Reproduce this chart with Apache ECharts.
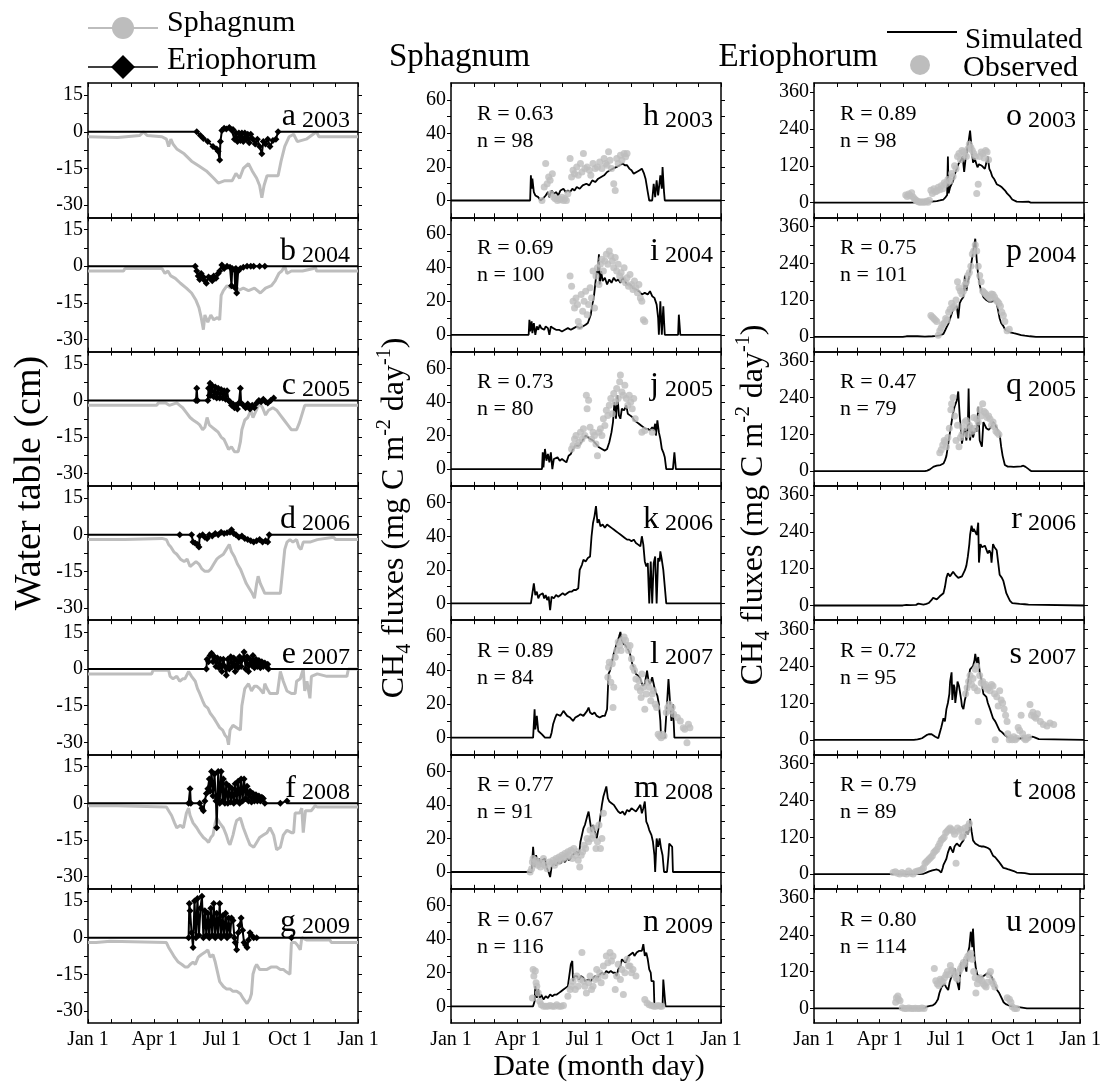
<!DOCTYPE html>
<html>
<head>
<meta charset="utf-8">
<script src="https://cdn.jsdelivr.net/npm/echarts@6/dist/echarts.min.js"></script>
<style>
  html, body { margin: 0; padding: 0; background: #fff; }
  #main { width: 1104px; height: 1083px; }
</style>
</head>
<body>
<div id="main"></div>
<script>
// ---- labels / ticks ----
const years = [2003, 2004, 2005, 2006, 2007, 2008, 2009];
const lettersWT = ['a', 'b', 'c', 'd', 'e', 'f', 'g'];
const lettersSph = ['h', 'i', 'j', 'k', 'l', 'm', 'n'];
const lettersEri = ['o', 'p', 'q', 'r', 's', 't', 'u'];
const rSph = ['0.63', '0.69', '0.73', null, '0.89', '0.77', '0.67'];
const nSph = ['98', '100', '80', null, '84', '91', '116'];
const rEri = ['0.89', '0.75', '0.47', null, '0.72', '0.79', '0.80'];
const nEri = ['98', '101', '79', null, '95', '89', '114'];
const monthStarts = [0, 31, 59, 90, 120, 151, 181, 212, 243, 273, 304, 334, 365];
const dateTicks = [0, 90, 181, 273, 365];
const dateLabels = ['Jan 1', 'Apr 1', 'Jul 1', 'Oct 1', 'Jan 1'];
const wtTicks = [-30, -22.5, -15, -7.5, 0, 7.5, 15];
const wtLabels = [-30, -15, 0, 15];
const sphTicks = [0, 10, 20, 30, 40, 50, 60];
const sphLabels = [0, 20, 40, 60];
const eriTicks = [0, 60, 120, 180, 240, 300, 360];
const eriLabels = [0, 120, 240, 360];

// ---- water table (cm), [day of year, value] ----
const wtSph2003 = [[0,-2],[40,-2.3],[70,-1.5],[75,0],[80,-1.5],[100,-2],[106,-3],[109,-6],[112,-3],[115,-5],[120,-7],[130,-9],[140,-12],[150,-14],[160,-16],[170,-19],[176,-21],[185,-20],[195,-20],[200,-17],[205,-19],[210,-15],[217,-13],[222,-16],[228,-19],[232,-22],[235,-27],[238,-22],[242,-18],[250,-18],[257,-18],[261,-12],[266,-6],[272,-2],[278,-1],[283,-4],[295,-3],[309,0],[312,-2],[365,-2]];
const wtEri2003 = [[147,0],[152,-1.5],[156,-2.7],[162,-4],[169,-6],[174,-7],[176,-8],[178,-11.5],[179,-4],[181,0.5],[184,1.5],[187,1.2],[191,1.8],[194,0.8],[196,1],[198,-3],[200,-0.5],[202,-4],[204,-0.5],[206,-3.5],[208,-0.5],[210,-4],[212,-0.5],[214,-3],[216,-1],[218,-4.5],[220,-1],[223,-3],[226,-5],[229,-3],[232,-6],[235,-9],[237,-4],[240,-5],[243,-3],[246,-6],[250,-3.5],[254,-3],[257,0]];
const wtSph2004 = [[0,-2],[48,-2],[50,-1],[100,-1],[104,-3],[108,-2],[112,-4],[118,-5],[125,-7],[133,-9],[140,-11],[146,-14],[150,-17],[153,-21],[156,-26],[158,-20],[162,-23],[166,-20],[170,-22],[175,-21],[178,-22],[180,-12],[183,-10],[188,-8],[193,-9],[198,-8],[203,-10],[210,-9],[217,-10],[225,-9],[233,-11],[240,-9],[248,-8],[253,-6],[258,-3],[262,-2],[266,0],[269,-3],[275,-2],[290,-2],[305,-1],[307,0],[309,-2],[365,-2]];
const wtEri2004 = [[145,0],[147,-2],[149,-4],[151,-5.5],[153,-3],[156,-4.5],[158,-6],[160,-7],[163,-4.5],[165,-5],[168,-6],[170,-4],[173,-5],[176,-3],[178,-2],[181,0.5],[184,-1],[188,0],[192,-0.5],[194,-8],[195,-1],[198,-1.5],[199,-9],[200,-1],[201,-11],[203,-2],[206,-1],[210,-0.5],[215,0],[220,0],[224,0],[232,0],[239,0]];
const wtSph2005 = [[0,-2],[60,-2],[93,-2],[95,-1],[105,-1],[110,-2],[120,-1],[124,-2],[128,-3],[133,-5],[138,-7],[142,-8],[147,-9],[151,-10],[155,-12],[158,-11],[161,-7],[164,-10],[168,-11],[172,-12],[176,-13],[180,-15],[184,-16],[187,-18],[190,-20],[194,-19],[198,-21],[203,-21],[206,-17],[208,-12],[212,-8],[216,-7],[220,-4],[223,-7],[226,-5],[229,-3],[232,-1],[236,-3],[240,-6],[244,-4],[250,-3],[255,-4],[260,-6],[265,-8],[270,-10],[275,-12],[282,-12],[286,-9],[290,-5],[293,-2],[300,-2],[365,-2]];
const wtEri2005 = [[146,0],[147,5],[148,0],[162,0],[163,5],[164,2],[165,7],[166,2],[168,6],[170,1.5],[172,5.5],[174,1],[176,5],[178,1],[180,4.5],[182,1],[184,4],[186,0.5],[188,4],[190,0],[192,-0.5],[194,-2],[196,-1.5],[198,-3],[200,-2],[202,-3.5],[204,-1],[206,5],[207,-1],[210,-2],[213,-3],[216,-1.5],[219,-3.5],[222,-2],[225,-3],[228,-1],[231,0],[234,-0.5],[237,0.5],[240,-0.5],[243,-1],[247,0],[251,1]];
const wtSph2006 = [[0,-2],[50,-2],[52,-1.5],[100,-1.5],[106,-2],[109,-4],[112,-5],[116,-7],[120,-8],[125,-10],[130,-11],[134,-10],[138,-13],[142,-12],[146,-11],[150,-12],[154,-14],[158,-15],[163,-15],[166,-14],[170,-12],[174,-10],[178,-9],[183,-8],[187,-6],[191,-4],[194,-7],[198,-9],[202,-12],[206,-14],[210,-17],[214,-20],[218,-22],[222,-24],[225,-26],[228,-20],[230,-17],[233,-20],[236,-22],[239,-24],[245,-24],[252,-24],[260,-24],[263,-15],[266,-6],[269,-3],[273,-2],[277,-3],[282,-2],[285,-5],[288,-6],[291,-3],[300,-3],[310,-2],[332,-1],[335,-2],[365,-2]];
const wtEri2006 = [[124,0],[140,0],[142,-3],[145,-3.5],[148,-4],[150,-5],[151,-0.5],[155,0],[158,-1],[161,-1.5],[164,0],[168,-0.5],[172,0.5],[176,0],[180,1],[184,0.5],[188,0.8],[192,1],[194,2],[197,0.5],[200,0],[204,-1],[208,-0.5],[212,-1.5],[216,-2],[220,-2.5],[224,-3],[228,-2.5],[232,-2],[236,-3],[240,-2.5],[243,-3],[245,0]];
const wtSph2007 = [[0,-2],[86,-2],[88,-0.5],[109,-0.5],[111,-3],[115,-4],[120,-3],[124,-5],[128,-4],[131,-4],[136,-1],[140,-3],[145,-5],[148,-8],[151,-10],[155,-13],[158,-15],[162,-16],[165,-18],[170,-20],[174,-22],[178,-24],[182,-25],[185,-27],[188,-28],[190,-31],[192,-25],[196,-23],[201,-24],[206,-25],[208,-15],[212,-8],[217,-6],[221,-9],[225,-7],[228,-7],[232,-8],[237,-10],[239,-6],[242,-8],[246,-10],[250,-10],[256,-10],[260,-1],[264,-5],[269,-9],[275,-10],[280,-10],[282,-5],[287,-4],[291,0],[293,-9],[296,-5],[300,-12],[302,-3],[310,-2],[323,-3],[340,-3],[350,-3],[352,0],[365,0]];
const wtEri2007 = [[160,0],[161,4],[163,3],[165,5.5],[167,6.5],[169,3],[171,5],[173,1],[175,4.5],[177,0.5],[179,4],[181,-1],[183,4],[185,1],[187,-2.5],[189,4],[191,0],[193,5],[195,1],[197,4.5],[199,-1],[201,3.5],[203,0.5],[205,5],[207,1],[209,4],[211,7],[213,0],[215,5],[217,-1],[219,4],[221,1.5],[223,5.5],[225,0.5],[227,4],[229,1],[231,3.5],[233,0.5],[235,3],[237,1],[239,2.5],[241,1],[243,2],[244,0]];
const wtSph2008 = [[0,-1],[39,-1],[41,-1.5],[106,-1.5],[109,-3],[113,-5],[117,-8],[120,-10],[125,-9],[129,-10],[133,-4],[136,-2],[138,-5],[142,-8],[147,-10],[151,-12],[156,-14],[160,-15],[163,-16],[166,-14],[169,-13],[172,-8],[174,-6],[178,-8],[183,-10],[187,-13],[190,-16],[192,-17],[196,-13],[199,-9],[201,-7],[206,-6],[210,-10],[215,-14],[219,-17],[224,-18],[228,-16],[232,-14],[237,-13],[242,-12],[246,-10],[251,-13],[255,-19],[260,-18],[264,-13],[269,-11],[275,-12],[278,-12],[280,-4],[286,-4],[289,-2],[291,-12],[294,-3],[302,-3],[307,-1],[310,-1.5],[365,-1.5]];
const wtEri2008 = [[136,0],[138,6],[139,0],[151,0],[154,-2],[156,-3],[158,1],[160,4],[162,6],[164,10],[165,5],[167,13],[169,3],[171,12],[173,1],[174,-10],[175,2],[176,13],[178,0],[180,13],[182,1],[183,10],[185,0],[187,8],[189,0],[191,7],[193,0.5],[195,6],[197,0],[199,8],[201,1],[203,9],[205,0],[207,10],[209,1],[211,10],[213,2],[215,7],[217,1],[219,5],[221,0.5],[223,4],[225,1],[227,3.5],[229,1],[231,3],[233,1],[235,2.5],[237,2],[239,0],[260,0],[269,1]];
const wtSph2009 = [[0,-2],[11,-2],[12,-1.5],[30,-1.5],[32,-2],[106,-2],[109,-4],[113,-6],[117,-8],[122,-10],[127,-11],[131,-12],[135,-12],[138,-11],[142,-10],[145,-11],[149,-8],[153,-7],[158,-6],[162,-5],[165,-8],[169,-7],[172,-10],[175,-14],[178,-18],[183,-20],[187,-21],[192,-21],[196,-22],[201,-22],[206,-23],[210,-25],[215,-27],[219,-25],[221,-23],[223,-15],[226,-12],[228,-11],[232,-13],[237,-13],[242,-13],[248,-12],[255,-12],[260,-13],[264,-13],[268,-14],[273,-15],[275,-2],[280,-2],[283,-3],[287,-5],[289,0],[296,-1],[327,-1],[329,-2],[365,-2]];
const wtEri2009 = [[136,0],[137,14],[138,11],[140,2],[142,-4],[144,15],[146,0],[148,16],[150,1],[152,12],[154,17],[156,0],[158,11],[160,1],[162,10],[164,0],[166,12],[168,1],[170,14],[172,0],[174,10],[176,1],[178,14],[180,0],[182,9],[184,1],[186,10],[188,0],[190,8],[192,1],[194,8],[196,7],[198,0],[199,-2],[201,-5],[203,2],[205,5],[207,8],[209,3],[211,-2],[213,-3],[215,-4],[217,-1],[219,2],[221,1],[224,0],[228,0],[275,0]];

// ---- Sphagnum CH4 flux (mg C m-2 day-1) ----
const sphSim2003 = [[0,0],[107,0],[108,15],[109,7],[110,13],[112,5],[114,3],[118,2],[121,0],[124,1],[128,3],[131,5],[133,2],[136,6],[139,4],[142,5],[145,3],[148,6],[152,7],[155,5],[158,6],[161,5],[164,7],[167,6],[170,8],[174,7],[178,9],[183,10],[187,9],[191,12],[195,11],[199,13],[203,14],[207,15],[211,17],[215,18],[219,19],[224,20],[228,21],[232,22],[235,21],[238,21],[241,19],[244,18],[247,16],[251,17],[255,18],[258,19],[261,16],[263,13],[266,5],[268,0],[272,0],[274,10],[276,2],[278,12],[280,3],[283,15],[285,7],[286,20],[288,5],[289,0],[365,0]];
const sphObs2003 = [[123,0],[126,8],[128,22],[130,10],[132,14],[134,12],[135,4],[137,16],[139,2],[141,1],[144,0],[146,1],[148,0.5],[150,2],[152,0],[154,1],[156,0],[158,4],[161,25],[163,14],[165,18],[167,16],[170,20],[172,15],[175,22],[177,17],[179,28],[181,19],[184,20],[187,18],[189,15],[192,22],[195,19],[198,20],[201,23],[204,19],[207,25],[209,22],[211,21],[213,29],[215,24],[217,19],[220,10],[222,6],[224,25],[226,22],[229,27],[231,24],[234,28],[236,26],[238,28]];
const sphSim2004 = [[0,0],[105,0],[106,9],[107,2],[109,8],[110,1],[112,7],[114,0],[116,5],[118,3],[120,6],[122,4],[124,5],[126,3],[128,5],[131,4],[133,0],[135,5],[138,4],[142,3],[146,3],[150,2],[154,3],[158,4],[162,3],[166,4],[170,5],[174,4],[178,5],[182,6],[185,7],[187,6],[189,12],[191,18],[193,22],[195,30],[197,38],[198,36],[200,48],[201,30],[203,38],[205,32],[208,34],[211,30],[214,33],[217,31],[220,34],[223,32],[226,33],[229,31],[232,34],[235,32],[238,30],[242,30],[246,28],[250,27],[254,26],[258,24],[262,25],[266,24],[269,26],[272,23],[275,22],[278,18],[280,10],[281,0],[283,20],[285,0],[287,17],[289,0],[307,0],[308,12],[310,0],[365,0]];
const sphObs2004 = [[161,35],[163,29],[165,20],[167,16],[169,22],[171,18],[172,8],[174,5],[176,24],[178,14],[180,20],[182,26],[184,12],[186,18],[188,28],[190,22],[192,38],[194,16],[196,35],[198,40],[200,30],[202,42],[204,45],[206,38],[208,44],[210,48],[212,42],[214,50],[216,47],[218,44],[220,40],[222,46],[224,38],[226,42],[228,35],[230,37],[232,33],[234,40],[236,31],[238,34],[240,29],[242,36],[244,30],[246,27],[248,32],[250,28],[252,25],[254,30],[256,22],[258,20],[260,9],[262,8]];
const sphSim2005 = [[0,0],[123,0],[124,10],[125,1],[127,12],[129,5],[131,9],[133,4],[135,10],[137,0],[139,6],[141,5],[144,7],[147,5],[150,6],[153,5],[156,4],[159,8],[162,9],[165,12],[168,14],[170,15],[173,14],[176,16],[179,18],[182,20],[185,19],[188,18],[192,17],[196,15],[200,13],[204,12],[208,11],[211,12],[214,16],[217,22],[219,28],[221,40],[223,30],[225,44],[227,32],[229,30],[231,36],[234,35],[237,38],[239,33],[242,32],[245,31],[248,29],[251,28],[254,27],[257,26],[260,25],[263,24],[266,24],[269,23],[272,25],[274,23],[276,27],[277,20],[279,29],[281,22],[283,18],[285,12],[287,10],[289,7],[291,0],[300,0],[302,10],[304,0],[365,0]];
const sphObs2005 = [[163,12],[165,14],[167,18],[169,20],[171,14],[173,16],[175,22],[177,18],[179,24],[181,20],[183,44],[184,36],[186,41],[188,25],[190,18],[192,22],[194,20],[196,15],[198,8],[200,22],[202,24],[204,20],[206,30],[208,26],[210,35],[212,32],[214,38],[216,42],[218,33],[220,45],[222,40],[224,48],[226,42],[228,52],[229,56],[231,46],[233,44],[235,50],[237,42],[239,38],[241,44],[243,40],[245,36],[247,42],[249,30],[258,22],[262,23],[272,22]];
const sphSim2006 = [[0,0],[104,0],[106,1],[108,0],[112,12],[114,5],[116,7],[118,3],[120,5],[122,4],[124,6],[126,3],[128,5],[130,2],[132,4],[134,-4],[136,4],[139,3],[142,5],[145,4],[148,5],[151,6],[154,5],[157,6],[160,7],[163,7],[166,8],[169,8],[172,9],[174,20],[177,23],[179,26],[182,25],[185,27],[188,28],[190,40],[192,48],[194,52],[196,58],[198,48],[200,50],[202,46],[205,47],[208,45],[211,47],[214,46],[217,45],[220,44],[223,43],[226,42],[229,41],[232,40],[235,39],[238,38],[241,38],[244,37],[247,38],[250,36],[253,35],[256,34],[258,40],[260,35],[262,25],[264,22],[266,24],[268,0],[270,25],[272,0],[274,24],[276,28],[278,0],[280,27],[282,25],[283,31],[285,26],[287,20],[291,0],[365,0]];
const sphSim2007 = [[0,0],[111,0],[113,17],[114,5],[116,13],[118,4],[120,3],[123,2],[127,0],[134,0],[136,3],[138,8],[141,12],[143,14],[145,15],[148,13],[150,14],[152,16],[154,15],[157,13],[161,12],[165,10],[168,12],[172,13],[175,14],[177,15],[179,13],[181,14],[184,16],[186,18],[188,15],[191,14],[194,15],[197,13],[201,12],[205,13],[208,13],[211,17],[213,38],[215,40],[218,46],[220,50],[222,53],[224,56],[227,60],[229,63],[231,58],[233,56],[236,55],[238,55],[240,52],[242,50],[245,44],[247,42],[250,38],[253,37],[256,35],[259,31],[262,32],[265,40],[267,34],[269,32],[272,36],[274,35],[276,28],[279,25],[281,20],[283,10],[284,0],[289,0],[292,20],[294,35],[296,22],[298,10],[300,20],[302,0],[365,0]];
const sphObs2007 = [[212,36],[213,42],[214,45],[216,33],[218,44],[219,18],[220,30],[222,48],[224,52],[226,57],[228,55],[230,52],[232,58],[234,60],[236,58],[238,55],[240,52],[242,55],[244,47],[246,42],[248,40],[250,35],[252,30],[254,34],[256,28],[257,24],[258,38],[260,30],[262,17],[264,26],[266,33],[268,30],[270,22],[272,26],[274,28],[276,20],[278,18],[280,2],[282,1],[284,0],[286,2],[288,1],[291,15],[293,18],[295,20],[297,16],[299,18],[301,14],[306,12],[310,10],[314,6],[316,5],[319,-3],[321,8],[323,6]];
const sphSim2008 = [[0,0],[109,0],[111,15],[113,3],[115,10],[117,6],[119,8],[121,5],[123,7],[125,6],[127,8],[129,3],[132,0],[134,-3],[136,3],[139,5],[142,4],[145,6],[148,5],[151,7],[154,6],[157,8],[160,7],[164,10],[167,11],[170,12],[173,10],[175,18],[177,22],[179,26],[181,28],[184,33],[186,36],[188,30],[190,24],[192,28],[194,25],[197,20],[199,25],[201,30],[204,40],[206,45],[208,48],[210,51],[212,44],[214,42],[217,41],[220,40],[223,38],[226,36],[229,35],[232,36],[235,34],[238,37],[241,36],[244,38],[247,37],[250,36],[253,38],[256,40],[258,35],[260,38],[262,42],[264,30],[266,28],[268,25],[271,22],[273,18],[275,10],[276,0],[278,20],[280,15],[282,20],[284,14],[286,10],[288,0],[292,0],[294,10],[295,17],[297,16],[299,15],[300,0],[365,0]];
const sphObs2008 = [[107,0],[109,2],[110,6],[111,8],[113,5],[115,7],[117,4],[119,6],[121,3],[123,5],[125,8],[127,4],[130,2],[133,6],[136,5],[138,7],[140,4],[142,8],[144,6],[146,9],[148,7],[150,10],[152,8],[154,11],[156,9],[158,12],[160,10],[162,13],[164,8],[166,14],[168,10],[170,12],[172,7],[174,3],[176,10],[178,12],[180,16],[182,14],[184,20],[186,18],[188,25],[190,20],[192,22],[194,26],[196,14],[198,18],[200,28],[202,14],[204,20],[206,35]];
const sphSim2009 = [[0,0],[111,0],[113,3],[114,12],[116,5],[118,10],[120,5],[122,7],[125,4],[128,6],[131,5],[134,7],[137,6],[140,7],[143,7],[146,8],[149,9],[152,10],[155,11],[158,12],[160,13],[162,25],[164,27],[165,15],[167,18],[170,18],[173,16],[176,18],[179,17],[181,15],[183,14],[186,16],[189,15],[192,17],[195,18],[198,17],[201,19],[204,20],[207,19],[210,21],[213,20],[216,21],[219,20],[222,20],[224,18],[226,22],[229,24],[231,28],[233,27],[236,26],[238,28],[240,30],[243,31],[246,32],[248,30],[251,32],[254,33],[256,34],[258,33],[260,37],[262,30],[264,32],[266,28],[268,22],[270,20],[271,15],[274,15],[275,0],[286,0],[287,16],[289,16],[290,0],[365,0]];
const sphObs2009 = [[110,5],[111,22],[112,18],[114,21],[115,14],[116,12],[118,8],[120,3],[122,1],[125,0],[128,0],[131,0],[134,0.5],[137,0],[140,0],[143,1],[146,0],[149,0],[152,0.5],[158,6],[161,10],[163,12],[165,15],[168,10],[170,18],[172,12],[175,16],[177,32],[179,15],[181,12],[183,8],[186,14],[188,18],[190,10],[192,12],[195,16],[197,22],[199,17],[201,20],[203,14],[206,24],[208,18],[210,30],[212,26],[215,32],[217,27],[219,30],[222,10],[224,18],[226,25],[229,16],[231,22],[233,7],[235,20],[238,28],[240,24],[242,24],[244,20],[246,22],[250,18],[262,4],[265,2],[268,1],[271,0.5],[274,0],[277,0],[280,0.5],[283,0],[285,0]];

// ---- Eriophorum CH4 flux (mg C m-2 day-1) ----
const eriSim2003 = [[0,0],[130,0],[140,1],[150,2],[157,2],[162,4],[166,5],[170,7],[175,10],[178,18],[180,25],[181,150],[182,30],[184,50],[186,60],[188,70],[190,90],[193,110],[195,125],[197,130],[199,140],[201,150],[203,100],[205,145],[207,150],[209,200],[211,235],[213,180],[215,130],[217,145],[219,150],[221,115],[223,125],[225,130],[227,120],[229,115],[231,110],[233,130],[235,150],[237,110],[239,100],[241,85],[244,75],[247,60],[249,62],[251,55],[254,50],[256,45],[258,40],[261,30],[263,25],[265,20],[268,10],[270,5],[274,3],[282,2],[290,3],[293,0],[365,0]];
const eriObs2003 = [[124,25],[126,20],[128,28],[130,22],[132,32],[134,18],[136,12],[138,8],[140,4],[142,2],[144,1],[146,3],[148,1],[150,2],[152,4],[154,1],[156,8],[158,40],[160,30],[162,45],[164,35],[166,38],[168,50],[170,42],[172,55],[174,45],[176,65],[178,60],[181,75],[184,70],[186,95],[188,85],[190,120],[192,110],[194,150],[196,160],[198,140],[200,170],[202,165],[204,155],[206,150],[208,175],[210,190],[212,180],[214,170],[216,160],[218,150],[220,30],[222,60],[224,150],[226,165],[228,160],[230,145],[232,170],[234,165],[236,140]];
const eriSim2004 = [[0,0],[120,0],[125,2],[140,2],[150,1],[160,2],[166,3],[170,5],[175,10],[177,20],[179,30],[182,45],[184,60],[186,75],[188,90],[190,95],[193,100],[195,60],[197,110],[199,120],[202,130],[204,200],[206,150],[208,180],[210,200],[212,230],[214,260],[216,290],[218,320],[220,250],[222,200],[224,170],[226,150],[229,130],[231,125],[233,120],[236,115],[238,110],[240,115],[242,120],[244,118],[247,110],[249,85],[251,60],[253,45],[256,35],[258,25],[260,20],[265,15],[270,12],[274,10],[280,6],[285,4],[292,2],[300,0],[365,0]];
const eriObs2004 = [[158,70],[160,65],[162,60],[164,55],[166,50],[168,5],[170,20],[172,30],[174,40],[176,45],[178,60],[180,55],[182,80],[184,90],[186,110],[188,95],[190,100],[192,120],[194,180],[196,160],[198,150],[200,140],[202,150],[204,170],[206,180],[208,200],[210,210],[212,230],[214,270],[216,280],[218,300],[220,280],[222,230],[224,200],[226,180],[228,150],[230,145],[232,140],[234,135],[236,130],[238,125],[240,140],[242,138],[244,130],[246,120],[248,115],[250,110],[252,100],[254,80],[256,70],[258,50],[261,20],[264,25]];
const eriSim2005 = [[0,0],[150,0],[153,2],[156,5],[159,10],[162,15],[164,20],[166,18],[168,15],[171,20],[175,25],[177,35],[179,50],[181,80],[182,100],[184,130],[186,160],[188,190],[190,210],[193,230],[195,260],[197,180],[200,90],[202,120],[204,140],[206,100],[208,150],[209,270],[210,150],[211,100],[213,150],[215,110],[218,140],[220,130],[222,210],[224,100],[227,80],[229,160],[231,150],[233,140],[236,135],[238,130],[240,145],[242,160],[245,150],[247,140],[249,130],[251,120],[253,80],[255,50],[258,20],[262,15],[266,15],[270,14],[275,15],[280,16],[283,18],[286,14],[288,10],[291,5],[294,0],[365,0]];
const eriObs2005 = [[170,60],[172,70],[174,85],[176,100],[177,95],[179,80],[181,110],[183,140],[185,200],[186,220],[188,240],[190,180],[192,100],[194,150],[196,80],[198,110],[200,120],[202,140],[204,160],[206,165],[208,120],[210,150],[212,140],[214,130],[216,175],[218,140],[220,170],[222,160],[224,200],[226,180],[228,220],[230,195],[232,190],[234,175],[236,180],[238,170],[240,150],[242,160],[244,145],[246,130],[248,125],[250,120]];
const eriSim2006 = [[0,0],[120,0],[125,2],[130,1],[138,2],[141,6],[143,2],[148,3],[152,5],[155,8],[157,10],[159,18],[161,25],[163,22],[166,20],[168,25],[170,30],[172,35],[175,40],[177,60],[179,90],[181,105],[182,100],[184,95],[186,100],[188,110],[191,100],[193,95],[195,90],[197,85],[200,95],[202,100],[204,115],[206,130],[208,160],[210,200],[211,230],[213,260],[215,240],[216,250],[218,245],[220,230],[222,270],[223,140],[225,200],[227,190],[229,190],[231,195],[233,200],[235,170],[237,180],[239,170],[240,140],[242,200],[244,190],[247,180],[249,140],[251,100],[254,90],[256,80],[258,60],[260,40],[263,25],[265,15],[268,8],[270,5],[278,5],[285,4],[290,3],[292,0],[365,0]];
const eriSim2007 = [[0,0],[135,0],[140,1],[143,3],[146,5],[149,10],[152,15],[155,18],[157,20],[159,18],[161,15],[164,10],[166,8],[168,5],[170,10],[172,40],[175,70],[177,60],[179,100],[181,120],[183,150],[184,190],[186,220],[187,130],[189,180],[190,170],[191,120],[193,160],[194,190],[196,175],[197,160],[199,130],[200,110],[202,100],[204,130],[206,150],[208,180],[209,200],[211,230],[213,235],[215,240],[217,260],[218,280],[219,265],[220,250],[222,270],[224,220],[226,200],[227,180],[229,150],[231,145],[233,140],[235,120],[238,100],[240,85],[242,70],[245,60],[247,50],[249,40],[251,30],[254,25],[256,20],[258,15],[260,10],[263,7],[265,5],[275,4],[283,5],[288,5],[292,8],[296,10],[299,7],[301,5],[304,2],[306,0],[365,0]];
const eriObs2007 = [[205,150],[207,170],[209,190],[211,210],[213,180],[215,200],[217,170],[218,230],[220,240],[221,160],[222,60],[224,210],[226,185],[228,190],[230,175],[232,180],[234,165],[236,170],[238,160],[240,180],[242,175],[244,150],[245,0],[247,140],[249,110],[251,160],[253,130],[255,120],[257,100],[259,80],[261,60],[262,20],[264,0],[266,5],[268,0],[270,10],[272,0],[274,5],[276,40],[278,30],[280,80],[282,20],[284,5],[286,0],[288,5],[290,8],[292,115],[294,80],[296,90],[298,75],[300,70],[302,85],[306,60],[310,50],[315,45],[319,55],[324,50]];
const eriSim2008 = [[0,0],[140,0],[148,1],[152,5],[155,8],[157,10],[160,12],[163,14],[166,15],[169,12],[172,5],[174,20],[175,30],[177,40],[179,50],[181,70],[184,90],[186,80],[188,70],[190,90],[193,100],[195,95],[197,90],[199,100],[202,110],[204,125],[206,140],[208,130],[210,150],[211,180],[213,140],[215,110],[218,100],[220,95],[223,92],[226,90],[229,90],[232,88],[235,85],[238,80],[240,70],[242,60],[245,55],[247,50],[250,40],[253,30],[256,20],[260,18],[263,15],[265,15],[270,10],[274,5],[280,4],[285,3],[292,0],[365,0]];
const eriObs2008 = [[107,5],[110,8],[113,3],[116,0],[119,5],[122,2],[125,0],[128,10],[131,3],[134,0],[137,8],[140,10],[143,12],[146,15],[148,20],[150,35],[152,40],[154,45],[156,50],[158,55],[160,60],[162,70],[164,75],[166,80],[168,90],[170,100],[172,110],[174,115],[176,120],[178,135],[180,140],[182,145],[184,150],[186,145],[188,140],[190,130],[192,35],[194,150],[196,140],[198,145],[200,120],[202,125],[204,150],[206,140],[208,155],[210,165]];
const eriSim2009 = [[0,0],[148,0],[152,2],[155,6],[157,10],[159,8],[161,5],[163,10],[166,15],[168,22],[170,30],[172,50],[175,70],[177,75],[179,80],[181,70],[184,60],[186,85],[188,100],[190,110],[193,130],[195,100],[197,80],[199,60],[200,100],[202,150],[204,140],[206,160],[208,130],[209,120],[211,180],[213,200],[215,250],[216,230],[217,200],[218,260],[220,170],[222,130],[224,110],[226,105],[229,100],[232,105],[235,110],[238,115],[240,112],[242,110],[245,95],[247,80],[249,70],[251,60],[254,50],[256,40],[258,30],[260,20],[263,14],[265,10],[270,7],[274,5],[280,4],[283,3],[292,0],[365,0]];
const eriObs2009 = [[112,20],[113,35],[115,40],[116,30],[118,25],[121,2],[124,0],[127,0],[130,1],[133,0],[136,0],[139,0.5],[142,0],[145,0],[148,1],[151,0],[165,130],[167,90],[169,80],[171,75],[173,95],[175,90],[177,85],[179,100],[181,110],[183,120],[185,110],[187,140],[189,125],[191,120],[193,110],[195,100],[197,95],[199,120],[201,130],[203,140],[205,150],[207,145],[209,160],[211,170],[213,175],[215,180],[217,160],[219,120],[221,100],[222,50],[224,80],[226,95],[228,100],[230,90],[232,80],[234,75],[236,70],[238,85],[240,110],[242,120],[244,90],[246,80],[248,70],[265,35],[268,30],[270,20],[272,5],[275,0],[278,0]];

const wtSph = [wtSph2003, wtSph2004, wtSph2005, wtSph2006, wtSph2007, wtSph2008, wtSph2009];
const wtEri = [wtEri2003, wtEri2004, wtEri2005, wtEri2006, wtEri2007, wtEri2008, wtEri2009];
const sphSim = [sphSim2003, sphSim2004, sphSim2005, sphSim2006, sphSim2007, sphSim2008, sphSim2009];
const sphObs = [sphObs2003, sphObs2004, sphObs2005, [], sphObs2007, sphObs2008, sphObs2009];
const eriSim = [eriSim2003, eriSim2004, eriSim2005, eriSim2006, eriSim2007, eriSim2008, eriSim2009];
const eriObs = [eriObs2003, eriObs2004, eriObs2005, [], eriObs2007, eriObs2008, eriObs2009];

// ---- layout ----
const FONT = 'Liberation Serif';
const GREY = '#bdbdbd';
const colLeft = [88, 451, 814];
const plotW = 270;
const rowTop0 = 83;
const rowH = 134.3;
const yRanges = [[-35, 20], [-10, 70], [-48, 390]];
const yTicks = [wtTicks, sphTicks, eriTicks];
const yLabels = [wtLabels, sphLabels, eriLabels];

var chart = echarts.init(document.getElementById('main'), null, { renderer: 'canvas' });

var grids = [], xAxes = [], yAxes = [], series = [], graphics = [];

function axisLineStyle() {
    return { show: true, onZero: false, lineStyle: { color: '#000', width: 1.5 } };
}

for (let r = 0; r < 7; r++) {
    for (let c = 0; c < 3; c++) {
        const k = r * 3 + c;
        const top = rowTop0 + r * rowH;
        grids.push({ left: colLeft[c], top: top, width: plotW, height: rowH });
        xAxes.push({
            gridIndex: k, type: 'value', min: 0, max: 365, position: 'bottom',
            axisLine: axisLineStyle(),
            axisTick: { inside: true, length: 4, customValues: monthStarts, lineStyle: { color: '#000', width: 1 } },
            axisLabel: {
                show: r === 6, customValues: dateTicks, margin: 7,
                fontFamily: FONT, fontSize: 20, color: '#000',
                formatter: function (v) {
                    const i = dateTicks.findIndex(d => Math.abs(d - v) < 0.5);
                    return i >= 0 ? dateLabels[i] : '';
                }
            },
            splitLine: { show: false }
        });
        xAxes.push({
            gridIndex: k, type: 'value', min: 0, max: 365, position: 'top',
            axisLine: axisLineStyle(),
            axisTick: { inside: true, length: 4, customValues: monthStarts, lineStyle: { color: '#000', width: 1 } },
            axisLabel: { show: false },
            splitLine: { show: false }
        });
        yAxes.push({
            gridIndex: k, type: 'value', min: yRanges[c][0], max: yRanges[c][1], position: 'left',
            axisLine: axisLineStyle(),
            axisTick: { inside: false, length: 4, customValues: yTicks[c], lineStyle: { color: '#000', width: 1 } },
            axisLabel: { customValues: yLabels[c], margin: 5, fontFamily: FONT, fontSize: 20, color: '#000' },
            splitLine: { show: false }
        });
        yAxes.push({
            gridIndex: k, type: 'value', min: yRanges[c][0], max: yRanges[c][1], position: 'right',
            axisLine: axisLineStyle(),
            axisTick: { inside: false, length: 4, customValues: yTicks[c], lineStyle: { color: '#000', width: 1 } },
            axisLabel: { show: false },
            splitLine: { show: false }
        });

        const xi = 2 * k, yi = 2 * k;
        if (c === 0) {
            series.push({
                type: 'line', xAxisIndex: xi, yAxisIndex: yi, data: wtSph[r],
                showSymbol: false, lineStyle: { color: GREY, width: 3 }, z: 2
            });
            // measured Eriophorum points get diamonds; flat zero outside the record
            const pts = wtEri[r];
            const lastDay = pts[pts.length - 1][0];
            const eri = [{ value: [0, 0], symbol: 'none' }]
                .concat(pts.map(p => ({ value: p })))
                .concat([{ value: [lastDay + 1, 0], symbol: 'none' }, { value: [365, 0], symbol: 'none' }]);
            series.push({
                type: 'line', xAxisIndex: xi, yAxisIndex: yi, data: eri,
                symbol: 'diamond', symbolSize: 7, showSymbol: true, showAllSymbol: true,
                itemStyle: { color: '#000' }, lineStyle: { color: '#000', width: 2 }, z: 3
            });
        } else {
            const sim = c === 1 ? sphSim[r] : eriSim[r];
            const obs = c === 1 ? sphObs[r] : eriObs[r];
            series.push({
                type: 'line', xAxisIndex: xi, yAxisIndex: yi, data: sim,
                showSymbol: false, lineStyle: { color: '#000', width: 1.8 }, z: 2
            });
            if (obs.length) {
                series.push({
                    type: 'scatter', xAxisIndex: xi, yAxisIndex: yi, data: obs,
                    symbol: 'circle', symbolSize: 7, itemStyle: { color: GREY }, z: 3
                });
            }
        }

        // panel letter + year
        const letter = [lettersWT, lettersSph, lettersEri][c][r];
        graphics.push({
            type: 'text', x: colLeft[c] + plotW - 8, y: top + 34, z: 10,
            style: {
                text: '{l|' + letter + '} {y|' + years[r] + '}',
                align: 'right', verticalAlign: 'middle', textAlign: 'right', textVerticalAlign: 'middle',
                fill: '#000', font: '24px "' + FONT + '"',
                rich: {
                    l: { fontSize: 32, fontFamily: FONT, lineHeight: 32, verticalAlign: 'bottom', fill: '#000' },
                    y: { fontSize: 24, fontFamily: FONT, lineHeight: 24, verticalAlign: 'bottom', fill: '#000' }
                }
            }
        });
        if (c > 0) {
            const rv = c === 1 ? rSph[r] : rEri[r];
            const nv = c === 1 ? nSph[r] : nEri[r];
            if (rv) {
                graphics.push({
                    type: 'text', x: colLeft[c] + 26, y: top + 31, z: 10,
                    style: { text: 'R = ' + rv, fill: '#000', font: '22px "' + FONT + '"', textVerticalAlign: 'middle', verticalAlign: 'middle' }
                });
                graphics.push({
                    type: 'text', x: colLeft[c] + 26, y: top + 58, z: 10,
                    style: { text: 'n = ' + nv, fill: '#000', font: '22px "' + FONT + '"', textVerticalAlign: 'middle', verticalAlign: 'middle' }
                });
            }
        }
    }
}

function txt(x, y, s, size, align, rot) {
    return {
        type: 'text', x: x, y: y, rotation: rot || 0, z: 10,
        style: {
            text: s, fill: '#000', font: size + 'px "' + FONT + '"',
            align: align || 'left', textAlign: align || 'left', verticalAlign: 'middle', textVerticalAlign: 'middle'
        }
    };
}

// legends and headers
graphics.push({ type: 'line', shape: { x1: 88, y1: 28, x2: 158, y2: 28 }, style: { stroke: GREY, lineWidth: 2 } });
graphics.push({ type: 'circle', shape: { cx: 123, cy: 28, r: 11 }, style: { fill: GREY } });
graphics.push(txt(167, 23, 'Sphagnum', 30));
graphics.push({ type: 'line', shape: { x1: 88, y1: 67, x2: 158, y2: 67 }, style: { stroke: '#000', lineWidth: 1.5 } });
graphics.push({ type: 'polygon', shape: { points: [[123, 55], [135, 67], [123, 79], [111, 67]] }, style: { fill: '#000' } });
graphics.push(txt(167, 61, 'Eriophorum', 31));
graphics.push(txt(389, 57, 'Sphagnum', 33));
graphics.push(txt(878, 57, 'Eriophorum', 33, 'right'));
graphics.push({ type: 'line', shape: { x1: 887, y1: 32, x2: 957, y2: 32 }, style: { stroke: '#000', lineWidth: 2 } });
graphics.push(txt(965, 40, 'Simulated', 29));
graphics.push({ type: 'circle', shape: { cx: 920, cy: 65, r: 10 }, style: { fill: GREY } });
graphics.push(txt(963, 68, 'Observed', 30));

// axis titles
graphics.push(txt(599, 1067, 'Date (month day)', 30, 'center'));
graphics.push(txt(30, 483, 'Water table (cm)', 38, 'center', Math.PI / 2));

function fluxTitle(x, y) {
    return {
        type: 'text', x: x, y: y, rotation: Math.PI / 2, z: 10,
        style: {
            text: '{m|CH}{s|4}{m| fluxes (mg C m}{p|-2}{m| day}{p|-1}{m|)}',
            align: 'center', textAlign: 'center', verticalAlign: 'middle', textVerticalAlign: 'middle',
            fill: '#000', font: '32px "' + FONT + '"',
            rich: {
                m: { fontSize: 32, fontFamily: FONT, lineHeight: 40, fill: '#000' },
                s: { fontSize: 20, fontFamily: FONT, lineHeight: 20, verticalAlign: 'bottom', fill: '#000' },
                p: { fontSize: 20, fontFamily: FONT, lineHeight: 20, verticalAlign: 'top', fill: '#000' }
            }
        }
    };
}
graphics.push(fluxTitle(395, 518));
graphics.push(fluxTitle(754, 505));

chart.setOption({
    animation: false,
    backgroundColor: '#fff',
    grid: grids,
    xAxis: xAxes,
    yAxis: yAxes,
    series: series,
    graphic: { elements: graphics }
});
window.addEventListener('resize', chart.resize);
</script>
</body>
</html>
